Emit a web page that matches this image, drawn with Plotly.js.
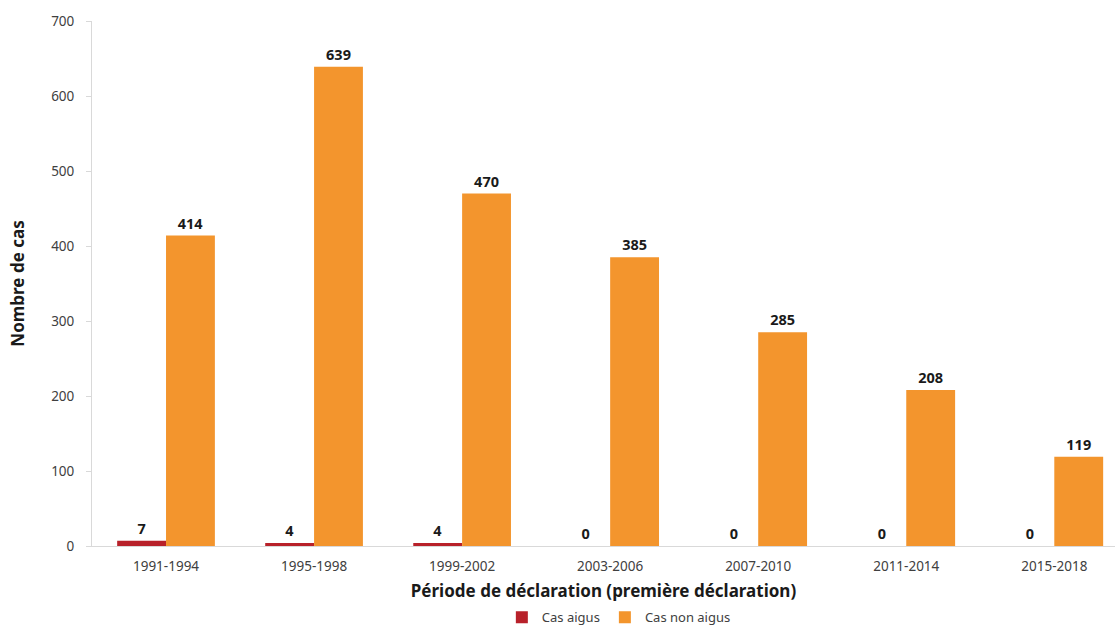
<!DOCTYPE html>
<html>
<head>
<meta charset="utf-8">
<script src="https://cdn.plot.ly/plotly-3.0.1.min.js"></script>
<style>
  html, body { margin: 0; padding: 0; background: #fff; }
  #chart { width: 1115px; height: 630px; }
</style>
</head>
<body>
<div id="chart"></div>
<script>
// Reporting periods (first declaration)
const periods = ['1991-1994', '1995-1998', '1999-2002', '2003-2006', '2007-2010', '2011-2014', '2015-2018'];
// Acute cases per period
const casAigus = [7, 4, 4, 0, 0, 0, 0];
// Non-acute cases per period
const casNonAigus = [414, 639, 470, 385, 285, 208, 119];
const yTicks = [0, 100, 200, 300, 400, 500, 600, 700];

const fontFamily = '"Noto Sans", "Open Sans", sans-serif';
const labelFont = { family: fontFamily, size: 14.5, color: '#1a1a1a', weight: 'bold' };
const tickFont = { family: fontFamily, size: 13.5, color: '#404040' };
const titleFont = { family: fontFamily, size: 17, color: '#1a1a1a', weight: 'bold' };

const traces = [
  {
    type: 'bar',
    name: 'Cas aigus',
    x: periods,
    y: casAigus,
    marker: { color: '#b8212a' },
    text: casAigus.map(String),
    textposition: 'outside',
    textfont: labelFont,
    cliponaxis: false,
    hoverinfo: 'x+y+name'
  },
  {
    type: 'bar',
    name: 'Cas non aigus',
    x: periods,
    y: casNonAigus,
    marker: { color: '#f3952d' },
    text: casNonAigus.map(String),
    textposition: 'outside',
    textfont: labelFont,
    cliponaxis: false,
    hoverinfo: 'x+y+name'
  }
];

const layout = {
  width: 1115,
  height: 630,
  margin: { l: 92, r: 0, t: 21, b: 84 },
  paper_bgcolor: '#ffffff',
  plot_bgcolor: '#ffffff',
  barmode: 'group',
  bargap: 0.34,
  bargroupgap: 0,
  font: { family: fontFamily, color: '#595959' },
  xaxis: {
    type: 'category',
    range: [-0.5, 6.41],
    automargin: false,
    showgrid: false,
    zeroline: false,
    showline: true,
    linecolor: '#d9d9d9',
    linewidth: 1,
    ticks: '',
    ticklabelstandoff: 8,
    tickfont: tickFont,
    title: {
      text: 'Période de déclaration (première déclaration)',
      font: titleFont,
      standoff: 13
    }
  },
  yaxis: {
    range: [0, 700],
    automargin: false,
    tickvals: yTicks,
    ticktext: yTicks.map(String),
    showgrid: false,
    zeroline: false,
    showline: true,
    linecolor: '#d9d9d9',
    linewidth: 1,
    ticks: 'outside',
    ticklen: 5,
    tickcolor: '#d9d9d9',
    ticklabelstandoff: 9,
    tickfont: tickFont,
    title: {
      text: 'Nombre de cas',
      font: titleFont,
      standoff: 22
    }
  },
  showlegend: true,
  legend: {
    orientation: 'h',
    x: 0.515,
    xanchor: 'center',
    yref: 'container',
    y: 0.02,
    yanchor: 'middle',
    font: { family: fontFamily, size: 13, color: '#404040' },
    itemwidth: 30,
    tracegroupgap: 0
  }
};

Plotly.newPlot('chart', traces, layout, { displayModeBar: false });
</script>
</body>
</html>
